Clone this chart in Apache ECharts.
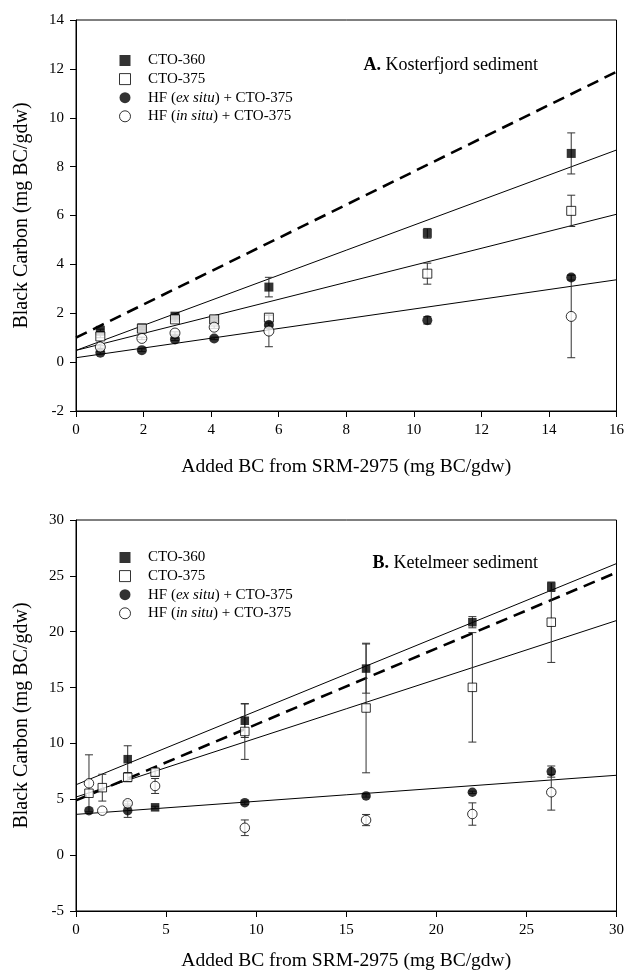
<!DOCTYPE html>
<html>
<head>
<meta charset="utf-8">
<script src="https://cdn.jsdelivr.net/npm/echarts@6/dist/echarts.min.js"></script>
<style>
    html, body {margin: 0; padding: 0; background: #fff;}
    #chart {width: 627px; height: 972px;}
</style>
</head>
<body>
<div id="chart"></div>
<script>
// A. Kosterfjord
var aX = [0.72, 1.95, 2.93, 4.09, 5.71, 10.4, 14.66];
var aCto360 = [1.30, 1.40, 1.88, 1.75, 3.07, 5.27, 8.54];
var aCto360Err = [0.05, 0.05, 0.08, 0.05, 0.40, 0.20, 0.84];
var aCto375 = [1.05, 1.37, 1.75, 1.75, 1.82, 3.62, 6.19];
var aCto375Err = [0.05, 0.05, 0.10, 0.08, 0.15, 0.43, 0.64];
var aHfEx = [0.38, 0.49, 0.93, 0.97, 1.52, 1.71, 3.46];
var aHfExErr = [0.05, 0.05, 0.05, 0.05, 0.05, 0.15, 0.10];
var aHfIn = [0.62, 0.97, 1.19, 1.43, 1.27, null, 1.87];
var aHfInErr = [0.05, 0.05, 0.05, 0.05, 0.64, null, 1.69];
// fitted lines, [x, y] at both ends
var aLineDash = [[0, 1.0], [16, 11.88]];
var aLine360 = [[0, 0.48], [16, 8.68]];
var aLine375 = [[0, 0.48], [16, 6.05]];
var aLineHf = [[0, 0.18], [16, 3.37]];

// B. Ketelmeer
var bX = [0.72, 1.46, 2.87, 4.39, 9.37, 16.1, 22.0, 26.38];
var bCto360 = [null, null, 8.59, 4.28, 12.03, 16.7, 20.85, 24.0];
var bCto360Err = [null, null, 1.2, 0.1, 1.5, 2.2, 0.5, 0.4];
var bCto375 = [5.54, 6.04, 6.97, 7.42, 11.07, 13.17, 15.02, 20.85];
var bCto375Err = [0, 1.2, 0.4, 0.3, 2.5, 5.8, 4.9, 3.6];
var bHfEx = [3.98, null, 3.98, null, 4.70, 5.30, 5.63, 7.48];
var bHfExErr = [0, null, 0.6, null, 0.15, 0.1, 0.1, 0.5];
var bHfIn = [6.43, 3.98, 4.64, 6.19, 2.45, 3.14, 3.68, 5.63];
var bHfInErr = [2.55, 0, 0.2, 0.67, 0.7, 0.5, 1.0, 1.6];
var bLineDash = [[0, 4.9], [30, 25.3]];
var bLine360 = [[0, 6.3], [30, 26.1]];
var bLine375 = [[0, 5.2], [30, 21.0]];
var bLineHf = [[0, 3.65], [30, 7.15]];

var names = ['CTO-360', 'CTO-375', 'HF (ex situ) + CTO-375', 'HF (in situ) + CTO-375'];
var serif = 'Liberation Serif';

function pts(xs, ys) {
    var out = [];
    for (var i = 0; i < xs.length; i++) {
        if (ys[i] != null) out.push([xs[i], ys[i]]);
    }
    return out;
}

function errs(xs, ys, es) {
    var out = [];
    for (var i = 0; i < xs.length; i++) {
        if (ys[i] != null && es[i]) out.push([xs[i], ys[i] - es[i], ys[i] + es[i]]);
    }
    return out;
}

function errRender(params, api) {
    var top = api.coord([api.value(0), api.value(2)]);
    var bot = api.coord([api.value(0), api.value(1)]);
    var w = 4;
    var st = {stroke: '#333', lineWidth: 1};
    return {
        type: 'group',
        children: [
            {type: 'line', shape: {x1: top[0], y1: top[1], x2: bot[0], y2: bot[1]}, style: st},
            {type: 'line', shape: {x1: top[0] - w, y1: top[1], x2: top[0] + w, y2: top[1]}, style: st},
            {type: 'line', shape: {x1: bot[0] - w, y1: bot[1], x2: bot[0] + w, y2: bot[1]}, style: st}
        ]
    };
}

var markStyles = [
    {symbol: 'rect', big: false, itemStyle: {color: '#000'}},
    {symbol: 'rect', big: false, itemStyle: {color: '#fff', borderColor: '#000', borderWidth: 1}},
    {symbol: 'circle', big: true, itemStyle: {color: '#000'}},
    {symbol: 'circle', big: true, itemStyle: {color: '#fff', borderColor: '#000', borderWidth: 1}}
];

var series = [];

function addPanel(idx, xs, ys, es, lines, sq, ci) {
    // fitted lines under the points
    for (var k = 0; k < lines.length; k++) {
        series.push({
            name: 'fit' + idx + k,
            type: 'line',
            xAxisIndex: idx, yAxisIndex: idx,
            data: lines[k],
            symbol: 'none',
            z: 1,
            lineStyle: k == 0 ? {color: '#000', width: 2.6, type: [12, 7]} : {color: '#000', width: 1}
        });
    }
    for (var s = 0; s < ys.length; s++) {
        series.push({
            type: 'custom',
            xAxisIndex: idx, yAxisIndex: idx,
            renderItem: errRender,
            data: errs(xs, ys[s], es[s]),
            z: 2
        });
    }
    for (var s = 0; s < ys.length; s++) {
        series.push({
            name: names[s],
            type: 'scatter',
            xAxisIndex: idx, yAxisIndex: idx,
            symbol: markStyles[s].symbol,
            symbolSize: markStyles[s].big ? ci : sq,
            itemStyle: markStyles[s].itemStyle,
            data: pts(xs, ys[s]),
            z: 3 + s
        });
    }
}

addPanel(0, aX, [aCto360, aCto375, aHfEx, aHfIn], [aCto360Err, aCto375Err, aHfExErr, aHfInErr],
    [aLineDash, aLine360, aLine375, aLineHf], 9, 10);
addPanel(1, bX, [bCto360, bCto375, bHfEx, bHfIn], [bCto360Err, bCto375Err, bHfExErr, bHfInErr],
    [bLineDash, bLine360, bLine375, bLineHf], 8.5, 9.5);

var sqIcon = 'path://M0,0L10,0L10,10L0,10Z';

function legendAt(top) {
    return {
        top: top,
        left: 114,
        orient: 'vertical',
        selectedMode: false,
        itemWidth: 36,
        itemHeight: 11,
        itemGap: 3.6,
        itemStyle: {borderWidth: 1},
        data: [
            {name: names[0], icon: sqIcon},
            {name: names[1], icon: sqIcon},
            {name: names[2], icon: 'circle'},
            {name: names[3], icon: 'circle'}
        ],
        formatter: function (n) {
            return n.replace('ex situ', '{i|ex situ}').replace('in situ', '{i|in situ}');
        },
        textStyle: {
            fontFamily: serif, fontSize: 15, color: '#000', lineHeight: 15,
            rich: {i: {fontFamily: serif, fontSize: 15, fontStyle: 'italic', color: '#000', lineHeight: 15}}
        }
    };
}

function titleAt(top, letter, text) {
    return {
        text: '{b|' + letter + '} ' + text,
        right: 84,
        top: top,
        textStyle: {
            fontFamily: serif, fontSize: 18, fontWeight: 'normal', color: '#000',
            rich: {b: {fontFamily: serif, fontSize: 18, fontWeight: 'bold', color: '#000'}}
        }
    };
}

function xAxisOf(idx, max, step, gap) {
    return {
        type: 'value', gridIndex: idx, min: 0, max: max, interval: step,
        name: 'Added BC from SRM-2975 (mg BC/gdw)',
        nameLocation: 'middle', nameGap: gap,
        nameTextStyle: {fontFamily: serif, fontSize: 19.5, color: '#000'},
        axisLine: {show: true, onZero: false, lineStyle: {color: '#000', width: 1}},
        axisTick: {show: true, length: 6, lineStyle: {color: '#000'}},
        axisLabel: {fontFamily: serif, fontSize: 15, color: '#000', margin: 12},
        splitLine: {show: false}
    };
}

function yAxisOf(idx, min, max, step) {
    return {
        type: 'value', gridIndex: idx, min: min, max: max, interval: step,
        name: 'Black Carbon (mg BC/gdw)',
        nameLocation: 'middle', nameGap: 44,
        nameTextStyle: {fontFamily: serif, fontSize: 20, color: '#000'},
        axisLine: {show: true, onZero: false, lineStyle: {color: '#000', width: 1}},
        axisTick: {show: true, length: 6, lineStyle: {color: '#000'}},
        axisLabel: {fontFamily: serif, fontSize: 15, color: '#000', margin: 12},
        splitLine: {show: false}
    };
}

var chart = echarts.init(document.getElementById('chart'));
chart.setOption({
    animation: false,
    backgroundColor: '#fff',
    title: [titleAt(51, 'A.', 'Kosterfjord sediment'), titleAt(549, 'B.', 'Ketelmeer sediment')],
    legend: [legendAt(48), legendAt(545)],
    grid: [
        {left: 76, right: 9, top: 20, height: 391, show: true, borderColor: '#000', borderWidth: 1},
        {left: 76, right: 9, top: 520, height: 391, show: true, borderColor: '#000', borderWidth: 1}
    ],
    xAxis: [xAxisOf(0, 16, 2, 46), xAxisOf(1, 30, 5, 40)],
    yAxis: [yAxisOf(0, -2, 14, 2), yAxisOf(1, -5, 30, 5)],
    series: series
});
</script>
</body>
</html>
